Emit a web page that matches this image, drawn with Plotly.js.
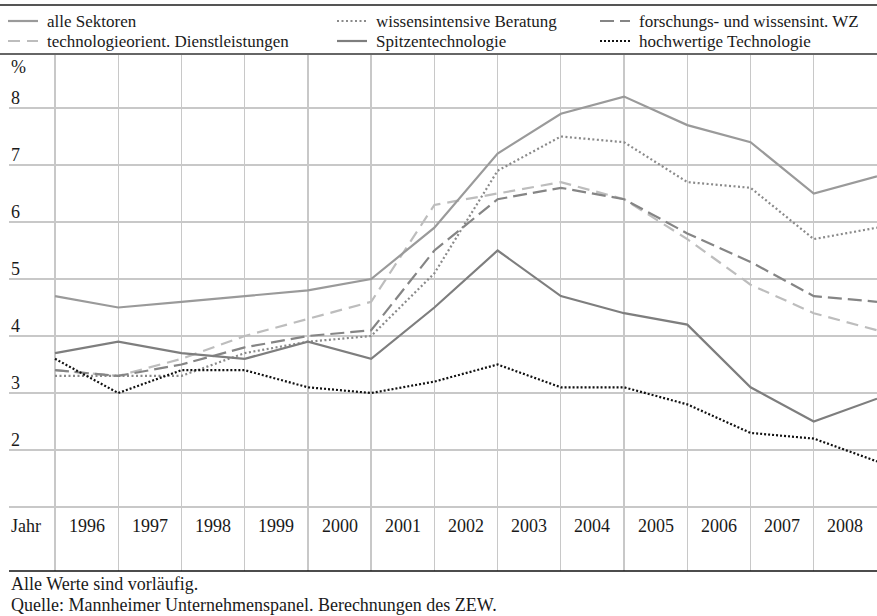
<!DOCTYPE html>
<html>
<head>
<meta charset="utf-8">
<script src="https://cdn.plot.ly/plotly-3.0.1.min.js"></script>
<style>
html,body{margin:0;padding:0;background:#fff;}
#chart{width:877px;height:616px;}
</style>
</head>
<body>
<div id="chart"></div>
<script>
// ---- data ----
var years = [1995,1996,1997,1998,1999,2000,2001,2002,2003,2004,2005,2006,2007,2008];
var yearLabels = ['1996','1997','1998','1999','2000','2001','2002','2003','2004','2005','2006','2007','2008'];
var alleSektoren = [4.7,4.5,4.6,4.7,4.8,5.0,5.9,7.2,7.9,8.2,7.7,7.4,6.5,6.8];
var wissensBeratung = [3.3,3.3,3.3,3.7,3.9,4.0,5.1,6.9,7.5,7.4,6.7,6.6,5.7,5.9];
var forschungsWZ = [3.4,3.3,3.5,3.8,4.0,4.1,5.5,6.4,6.6,6.4,5.8,5.3,4.7,4.6];
var technoDienst = [3.4,3.3,3.6,4.0,4.3,4.6,6.3,6.5,6.7,6.4,5.7,4.9,4.4,4.1];
var spitzenTech = [3.7,3.9,3.7,3.6,3.9,3.6,4.5,5.5,4.7,4.4,4.2,3.1,2.5,2.9];
var hochwTech = [3.6,3.0,3.4,3.4,3.1,3.0,3.2,3.5,3.1,3.1,2.8,2.3,2.2,1.8];
var yTickVals = [2,3,4,5,6,7,8];
var yTickText = ['2','3','4','5','6','7','8'];

// ---- geometry helpers (pixels -> paper) ----
var W = 877, H = 616, ML = 9, MR = 0, MT = 54, MB = 45;
var PW = W - ML - MR, PH = H - MT - MB;
function px(p){ return (p - ML) / PW; }
function py(p){ return (H - MB - p) / PH; }

var FONT = "'Liberation Serif', 'Times New Roman', Times, serif";
var TXT = '#1a1a1a';
var FS = 18;
var LFS = 17;

var series = [
  {name:'technologieorient. Dienstleistungen', y:technoDienst, color:'#bdbdbd', dash:'12px,7px', lx:8, ly:41},
  {name:'wissensintensive Beratung', y:wissensBeratung, color:'#8a8a8a', dash:'2px,2.5px', lx:337, ly:21},
  {name:'forschungs- und wissensint. WZ', y:forschungsWZ, color:'#858585', dash:'14px,6px', lx:600, ly:21},
  {name:'alle Sektoren', y:alleSektoren, color:'#9a9a9a', dash:'solid', lx:8, ly:21},
  {name:'Spitzentechnologie', y:spitzenTech, color:'#7e7e7e', dash:'solid', lx:337, ly:41},
  {name:'hochwertige Technologie', y:hochwTech, color:'#111111', dash:'2px,2px', lx:600, ly:41}
];

var traces = series.map(function(s){
  return {x:years, y:s.y, type:'scatter', mode:'lines', name:s.name,
    line:{color:s.color, width:2.2, dash:s.dash}, showlegend:false, hoverinfo:'skip'};
});

var shapes = [
  {type:'line', xref:'paper', yref:'paper', x0:px(0), x1:px(877), y0:py(5), y1:py(5), line:{color:'#555', width:2}},
  {type:'line', xref:'paper', yref:'paper', x0:px(0), x1:px(877), y0:py(54), y1:py(54), line:{color:'#666', width:2}},
  {type:'line', xref:'paper', yref:'paper', x0:px(9), x1:px(877), y0:py(571), y1:py(571), line:{color:'#111', width:1.5}}
];
var annotations = [];

series.forEach(function(s){
  shapes.push({type:'line', xref:'paper', yref:'paper', x0:px(s.lx), x1:px(s.lx+30), y0:py(s.ly), y1:py(s.ly),
    line:{color:s.color, width:2.2, dash:s.dash}});
  annotations.push({xref:'paper', yref:'paper', x:px(s.lx+38), y:py(s.ly), xanchor:'left', yanchor:'middle',
    text:s.name, showarrow:false, borderpad:0, font:{family:FONT, size:LFS, color:TXT}});
});

yTickVals.forEach(function(v, i){
  annotations.push({xref:'paper', yref:'y', x:0, y:v, xanchor:'left', yanchor:'bottom', yshift:-2,
    text:yTickText[i], showarrow:false, font:{family:FONT, size:FS, color:TXT}});
});
annotations.push({xref:'paper', yref:'paper', x:0, y:py(67), xanchor:'left', yanchor:'middle',
  text:'%', showarrow:false, font:{family:FONT, size:FS, color:TXT}});
annotations.push({xref:'paper', yref:'paper', x:0, y:py(526), xanchor:'left', yanchor:'middle',
  text:'Jahr', showarrow:false, font:{family:FONT, size:FS, color:TXT}});
yearLabels.forEach(function(t, i){
  annotations.push({xref:'x', yref:'paper', x:years[i] + 0.5, y:py(526), xanchor:'center', yanchor:'middle',
    text:t, showarrow:false, font:{family:FONT, size:FS, color:TXT}});
});
annotations.push({xref:'paper', yref:'paper', x:0, y:py(584), xanchor:'left', yanchor:'middle',
  text:'Alle Werte sind vorläufig.', showarrow:false, font:{family:FONT, size:FS, color:TXT}});
annotations.push({xref:'paper', yref:'paper', x:0, y:py(605), xanchor:'left', yanchor:'middle',
  text:'Quelle: Mannheimer Unternehmenspanel. Berechnungen des ZEW.', showarrow:false, font:{family:FONT, size:FS, color:TXT}});

var x0 = years[0];
var unit = (877 - 55) / (years.length - 1);
var layout = {
  width:W, height:H,
  margin:{l:ML, r:MR, t:MT, b:MB, pad:0},
  paper_bgcolor:'#fff', plot_bgcolor:'#fff',
  showlegend:false,
  xaxis:{range:[x0 - (55 - ML) / unit, years[years.length-1]], tickvals:years, showticklabels:false,
    showgrid:true, gridcolor:'#c8c8c8', gridwidth:1.3, zeroline:false, showline:false, ticks:''},
  yaxis:{range:[1 - 64/57, 8 + 54/57], tickvals:[1,2,3,4,5,6,7,8], showticklabels:false,
    showgrid:true, gridcolor:'#c8c8c8', gridwidth:1.3, zeroline:false, showline:false, ticks:''},
  shapes:shapes, annotations:annotations,
  font:{family:FONT, size:FS, color:TXT}
};

Plotly.newPlot('chart', traces, layout, {staticPlot:true, displayModeBar:false});
</script>
</body>
</html>
